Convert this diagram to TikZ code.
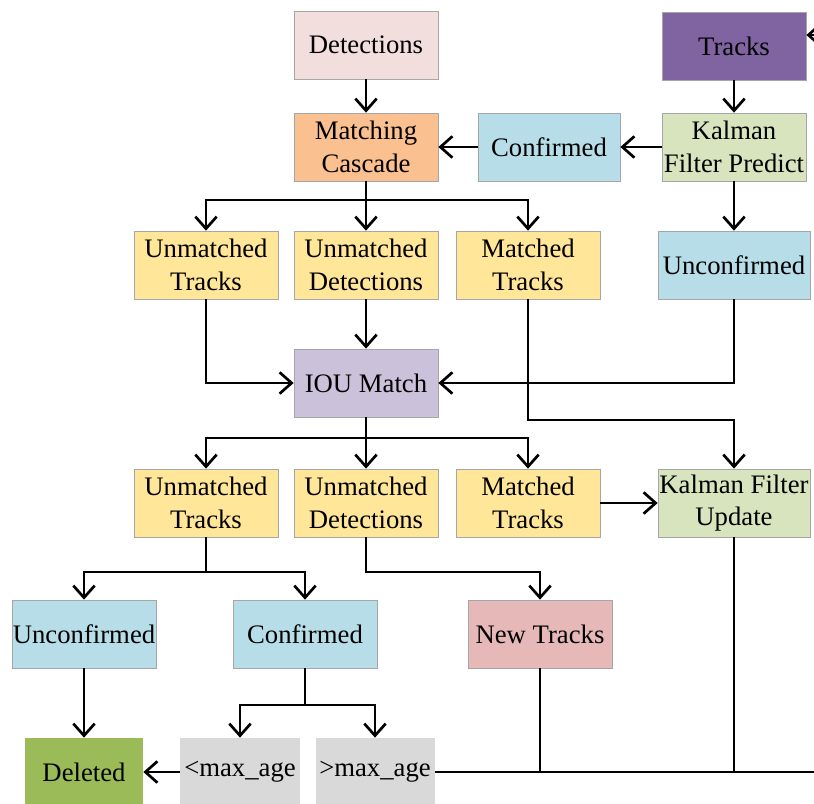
\documentclass[tikz,border=0pt]{standalone}
\usepackage{fontspec}
\setmainfont{Liberation Serif}
\usetikzlibrary{arrows.meta}

\definecolor{detpink}{RGB}{242,222,221}
\definecolor{trkpurple}{RGB}{128,100,162}
\definecolor{casorange}{RGB}{250,192,143}
\definecolor{confblue}{RGB}{183,222,232}
\definecolor{kalgreen}{RGB}{215,228,189}
\definecolor{matyellow}{RGB}{255,230,153}
\definecolor{ioulilac}{RGB}{204,193,218}
\definecolor{newpink}{RGB}{230,185,184}
\definecolor{delgreen}{RGB}{155,187,89}
\definecolor{agegray}{RGB}{217,217,217}

\begin{document}
\begin{tikzpicture}[x=0.03cm,y=-0.03cm,
    box/.style={draw=gray!70,line width=0.6pt,minimum width=4.32cm,minimum height=2.04cm,
        inner sep=0pt,align=center,font=\fontsize{22.8}{28}\selectfont},
    widebox/.style={box,minimum width=4.56cm},
    agebox/.style={box,minimum width=3.57cm,draw=none},
    link/.style={line width=2.3pt},
    arr/.style={link,-{Straight Barb[length=3.6mm,width=6.4mm,line width=2.3pt]}}]
    \useasboundingbox (0,0) rectangle (814,803);

    % 第一层:检测和轨迹
    \node[box,fill=detpink] (det) at (366,45) {Detections};
    \node[box,fill=trkpurple] (tr) at (734,46) {Tracks};
    \node[box,fill=casorange] (mc) at (366,147) {Matching\\Cascade};
    \node[box,fill=confblue,minimum width=4.26cm] (conf1) at (549,147) {Confirmed};
    \node[box,fill=kalgreen] (kfp) at (734,147) {Kalman\\Filter Predict};

    % 级联匹配的结果
    \node[box,fill=matyellow] (ut1) at (206,265) {Unmatched\\Tracks};
    \node[box,fill=matyellow] (ud1) at (366,265) {Unmatched\\Detections};
    \node[box,fill=matyellow] (mt1) at (528,265) {Matched\\Tracks};
    \node[widebox,fill=confblue] (unc1) at (734,265) {Unconfirmed};
    \node[box,fill=ioulilac] (iou) at (366,383) {IOU Match};

    % IOU 匹配的结果
    \node[box,fill=matyellow] (ut2) at (206,503) {Unmatched\\Tracks};
    \node[box,fill=matyellow] (ud2) at (366,503) {Unmatched\\Detections};
    \node[box,fill=matyellow] (mt2) at (528,503) {Matched\\Tracks};
    \node[widebox,fill=kalgreen] (kfu) at (734,503) {Kalman Filter\\Update};

    \node[box,fill=confblue] (unc2) at (84,634) {Unconfirmed};
    \node[box,fill=confblue] (conf2) at (305,634) {Confirmed};
    \node[box,fill=newpink] (nt) at (540,634) {New Tracks};

    \node[box,fill=delgreen,draw=none,minimum width=3.54cm] (del) at (84,772) {Deleted};
    \node[agebox,fill=agegray] (lt) at (240,772) {\textless max\_age};
    \node[agebox,fill=agegray] (gt) at (375,772) {\textgreater max\_age};

    % 分支点
    \coordinate (b1) at (366,200);
    \coordinate (b2) at (366,438);
    \coordinate (b3) at (206,572);
    \coordinate (b4) at (305,705);
    \coordinate (c1) at (528,420);
    \coordinate (c2) at (366,572);
    \coordinate (c3) at (818,772);
    \coordinate (c4) at (818,35);

    \draw[arr] (det) -- (mc);
    \draw[arr] (tr) -- (kfp);
    \draw[arr] (kfp) -- (conf1);
    \draw[arr] (conf1) -- (mc);
    \draw[arr] (kfp) -- (unc1);

    \draw[link] (mc) -- (b1);
    \draw[arr] (b1) -| (ut1);
    \draw[arr] (b1) -- (ud1);
    \draw[arr] (b1) -| (mt1);

    \draw[arr] (ut1) |- (iou);
    \draw[arr] (ud1) -- (iou);
    \draw[arr] (unc1) |- (iou);
    \draw[arr] (mt1) -- (c1) -| (kfu);

    \draw[link] (iou) -- (b2);
    \draw[arr] (b2) -| (ut2);
    \draw[arr] (b2) -- (ud2);
    \draw[arr] (b2) -| (mt2);
    \draw[arr] (mt2) -- (kfu);

    \draw[link] (ut2) -- (b3);
    \draw[arr] (b3) -| (unc2);
    \draw[arr] (b3) -| (conf2);
    \draw[arr] (ud2) -- (c2) -| (nt);
    \draw[arr] (unc2) -- (del);

    \draw[link] (conf2) -- (b4);
    \draw[arr] (b4) -| (lt);
    \draw[arr] (b4) -| (gt);
    \draw[arr] (lt) -- (del);

    % 回到 Tracks
    \draw[link] (nt) -- (nt |- gt);
    \draw[link] (kfu) -- (kfu |- gt);
    \draw[arr] (gt) -- (c3) -- (c4) -- (c4 -| tr.east);
\end{tikzpicture}
\end{document}
